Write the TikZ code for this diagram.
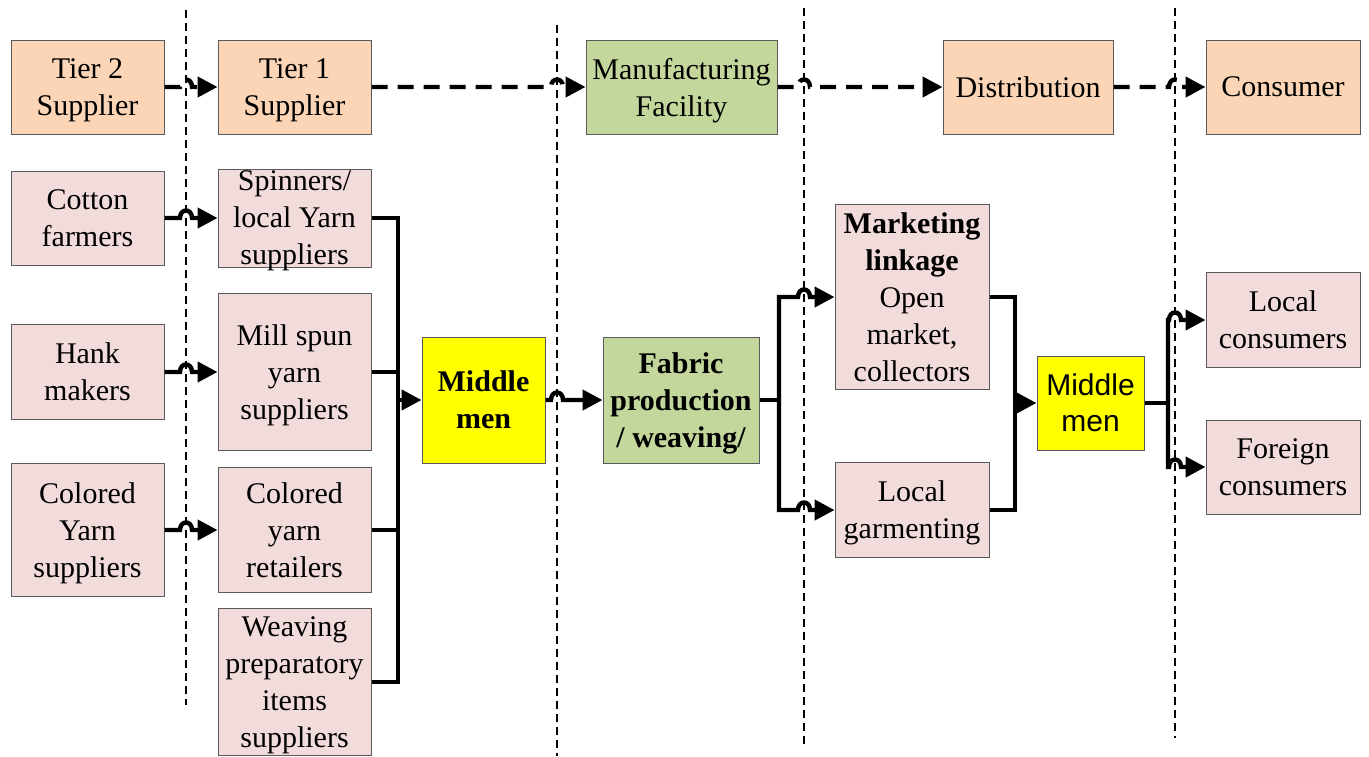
\documentclass[tikz,border=0pt]{standalone}
\usepackage{fontspec}
\setmainfont{Liberation Serif}
\newfontfamily\arialfont{Liberation Sans}
\usetikzlibrary{arrows.meta}

\definecolor{peach}{HTML}{FBD5B5}
\definecolor{rosy}{HTML}{F2DCDB}
\definecolor{sage}{HTML}{C3D69B}
\definecolor{lemon}{HTML}{FFFF00}

% last line of a box label: descenders do not count for vertical centring
\newcommand\lastrow[1]{\raisebox{0pt}[\height][0pt]{#1}}

\tikzset{
  box/.style={draw=black!65, line width=0.5pt, inner sep=0pt, align=center,
    font=\fontsize{15pt}{18.5pt}\selectfont},
  sz/.style 2 args={minimum width=#1*0.5pt, minimum height=#2*0.5pt},
  flow/.style={line width=2.2pt, line join=miter},
  arr/.style={flow, -{Triangle[length=10pt,width=10pt]}},
  topflow/.style={arr, dash pattern=on 8pt off 5pt},
  sep/.style={line width=0.9pt, dash pattern=on 4pt off 2.5pt},
}

\begin{document}
\begin{tikzpicture}[x=0.5pt, y=-0.5pt]
\useasboundingbox (0,0) rectangle (1369,756);

% tier separators
\coordinate (s1a) at (186,10);   \coordinate (s1b) at (186,705);
\coordinate (s2a) at (557,25);   \coordinate (s2b) at (557,756);
\coordinate (s3a) at (804,8);    \coordinate (s3b) at (804,748);
\coordinate (s4a) at (1175,8);   \coordinate (s4b) at (1175,738);
\draw[sep] (s1a) -- (s1b);
\draw[sep] (s2a) -- (s2b);
\draw[sep] (s3a) -- (s3b);
\draw[sep] (s4a) -- (s4b);

% generic supply chain stages
\node[box, fill=peach, sz={153}{94}] (t2) at (87.5,87) {Tier 2\\\lastrow{Supplier}};
\node[box, fill=peach, sz={153}{94}] (t1) at (294.5,87) {Tier 1\\\lastrow{Supplier}};
\node[box, fill=sage,  sz={191}{94}] (mf) at (681.5,87) {Manufacturing\\\lastrow{Facility}};
\node[box, fill=peach, sz={170}{94}] (di) at (1028,87) {Distribution};
\node[box, fill=peach, sz={154}{94}] (co) at (1283,87) {Consumer};

% raw material sources
\node[box, fill=rosy, sz={153}{94}]  (cf) at (87.5,218) {Cotton\\\lastrow{farmers}};
\node[box, fill=rosy, sz={153}{95}]  (hk) at (87.5,372) {Hank\\\lastrow{makers}};
\node[box, fill=rosy, sz={153}{133}] (cy) at (87.5,530) {Colored\\Yarn\\\lastrow{suppliers}};

% yarn suppliers
\node[box, fill=rosy, sz={153}{98}]  (sp) at (294.5,218) {Spinners/\\local Yarn\\\lastrow{suppliers}};
\node[box, fill=rosy, sz={153}{157}] (ms) at (294.5,372) {Mill spun\\yarn\\\lastrow{suppliers}};
\node[box, fill=rosy, sz={153}{125}] (cr) at (294.5,530) {Colored\\yarn\\\lastrow{retailers}};
\node[box, fill=rosy, sz={153}{147}] (wp) at (294.5,682) {Weaving\\preparatory\\items\\\lastrow{suppliers}};

% middle stages
\node[box, fill=lemon, sz={123}{126}, font=\fontsize{15pt}{18.5pt}\selectfont\bfseries] (mm1) at (483.5,400) {Middle\\\lastrow{men}};
\node[box, fill=sage, sz={156}{126}, font=\fontsize{15pt}{18.5pt}\selectfont\bfseries] (fb) at (681,400) {Fabric\\production\\\lastrow{/ weaving/}};
\node[box, fill=rosy, sz={154}{185}] (mk) at (912,297) {\textbf{Marketing}\\\textbf{linkage}\\Open\\market,\\\lastrow{collectors}};
\node[box, fill=rosy, sz={154}{95}]  (lg) at (912,510) {Local\\\lastrow{garmenting}};
\node[box, fill=lemon, sz={107}{94}, font=\fontsize{15pt}{18pt}\selectfont\arialfont] (mm2) at (1090.5,403) {Middle\\\lastrow{men}};
\node[box, fill=rosy, sz={154}{95}]  (lc) at (1283,320) {Local\\\lastrow{consumers}};
\node[box, fill=rosy, sz={154}{94}]  (fc) at (1283,467) {Foreign\\\lastrow{consumers}};

% top row flow
\draw[topflow] (t2.east) -- (180,87) .. controls (180,77) and (192,77) .. (192,87) -- (t1.west);
\draw[topflow] (t1.east) -- (551,87) .. controls (551,77) and (563,77) .. (563,87) -- (mf.west);
\draw[topflow] (mf.east) -- (798,87) .. controls (798,77) and (810,77) .. (810,87) -- (di.west);
\draw[topflow] (di.east) -- (1169,87) .. controls (1169,77) and (1181,77) .. (1181,87) -- (co.west);

% sources to yarn suppliers
\draw[arr] (cf.east) -- (180,218) .. controls (180,208) and (192,208) .. (192,218) -- (sp.west);
\draw[arr] (hk.east) -- (180,372) .. controls (180,362) and (192,362) .. (192,372) -- (ms.west);
\draw[arr] (cy.east) -- (180,530) .. controls (180,520) and (192,520) .. (192,530) -- (cr.west);

% yarn suppliers collected to middle men
\coordinate (j1) at (398,400);
\draw[flow] (sp.east) -| (j1) |- (wp.east);
\draw[flow] (ms.east) -- (ms.east -| j1);
\draw[flow] (cr.east) -- (cr.east -| j1);
\draw[arr] (j1) -- (mm1.west);

% middle men to fabric production
\draw[arr] (mm1.east) -- (551,400) .. controls (551,390) and (563,390) .. (563,400) -- (fb.west);

% fabric production branches
\coordinate (j2) at (779,400);
\draw[flow] (fb.east) -- (j2);
\draw[arr] (j2) |- (798,297) .. controls (798,287) and (810,287) .. (810,297) -- (mk.west);
\draw[arr] (j2) |- (798,510) .. controls (798,500) and (810,500) .. (810,510) -- (lg.west);

% market outlets to middle men
\coordinate (j3) at (1015,403);
\draw[flow] (mk.east) -| (j3) |- (lg.east);
\draw[arr] (j3) -- (mm2.west);

% middle men to consumers
\coordinate (j4) at (1168,403);
\draw[flow] (mm2.east) -- (j4);
\draw[arr] (j4) |- (1169,320) .. controls (1169,310) and (1181,310) .. (1181,320) -- (lc.west);
\draw[arr] (j4) |- (1169,467) .. controls (1169,457) and (1181,457) .. (1181,467) -- (fc.west);
\end{tikzpicture}
\end{document}
